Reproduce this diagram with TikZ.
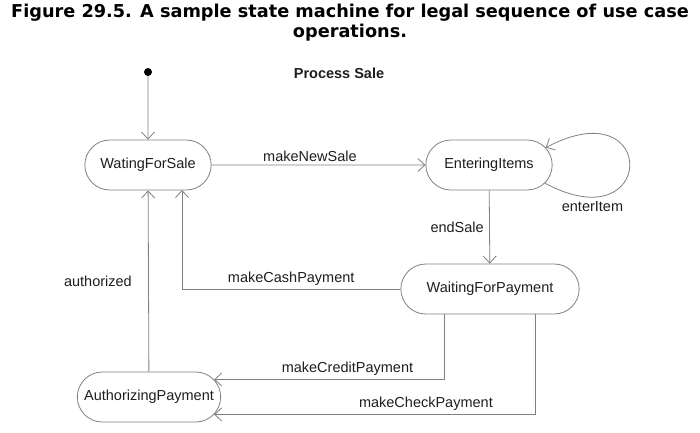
\documentclass[tikz,border=0pt]{standalone}
\usepackage{fontspec}
\setmainfont{Liberation Sans}
\newfontfamily\titlefont{DejaVu Sans}
\usetikzlibrary{arrows.meta, shapes.misc}

\definecolor{linegray}{HTML}{808080}
\definecolor{textgray}{HTML}{1E1E1E}

\tikzset{
  state/.style={rounded rectangle, draw=linegray, line width=0.8pt,
    minimum height=50pt, text=textgray, font=\fontsize{14.5}{17}\selectfont},
  trans/.style={draw=linegray, line width=0.8pt, ->},
  lbl/.style={text=textgray, font=\fontsize{14.5}{17}\selectfont}
}

\begin{document}
\begin{tikzpicture}[x=1pt, y=-1pt, >={Straight Barb[length=7pt, width=13pt]}]
  \useasboundingbox (0,0) rectangle (700,432);
  % caption
  \node[font=\titlefont\bfseries\fontsize{17.7}{20}\selectfont, align=center]
        (title) at (350,23) {Figure 29.5. A sample state machine for legal sequence of use case\\operations.};
  \node[lbl, font=\bfseries\fontsize{14.5}{17}\selectfont] (machine) at (339,73) {Process Sale};
  % states
  \node[circle, fill=black, inner sep=0pt, minimum size=8pt] (init) at (148,72) {};
  \node[state, minimum width=133pt] (waitsale) at (148,165) {WatingForSale};
  \node[state, minimum width=133pt] (items) at (489,165) {EnteringItems};
  \node[state, minimum width=185pt] (waitpay) at (490,289) {WaitingForPayment};
  \node[state, minimum width=150pt] (authpay) at (149,397) {AuthorizingPayment};
  % turning points
  \coordinate (cashup) at (182,190);
  \coordinate (creditdown) at (444,379);
  \coordinate (checkdown) at (535,414);
  % transitions
  \draw[trans] (init) -- (waitsale);
  \draw[trans] (waitsale) -- node[lbl, above, pos=0.46] {makeNewSale} (items);
  \draw[trans] (items.-18) .. controls +(112,60) and +(113,-60) .. node[lbl, below=1pt, pos=0.17] {enterItem} (items.17);
  \draw[trans] (items) -- node[lbl, left=2pt] {endSale} (waitpay);
  \draw[trans] (waitpay) -| node[lbl, above, pos=0.25] {makeCashPayment} (cashup);
  \draw[trans] (authpay) -- node[lbl, left=13pt] {authorized} (waitsale);
  \draw[trans] (waitpay.south -| creditdown) |- node[lbl, above, pos=0.71] {makeCreditPayment} (authpay.15);
  \draw[trans] (waitpay.south -| checkdown) |- node[lbl, above, pos=0.67] {makeCheckPayment} (authpay.-15);
\end{tikzpicture}
\end{document}
